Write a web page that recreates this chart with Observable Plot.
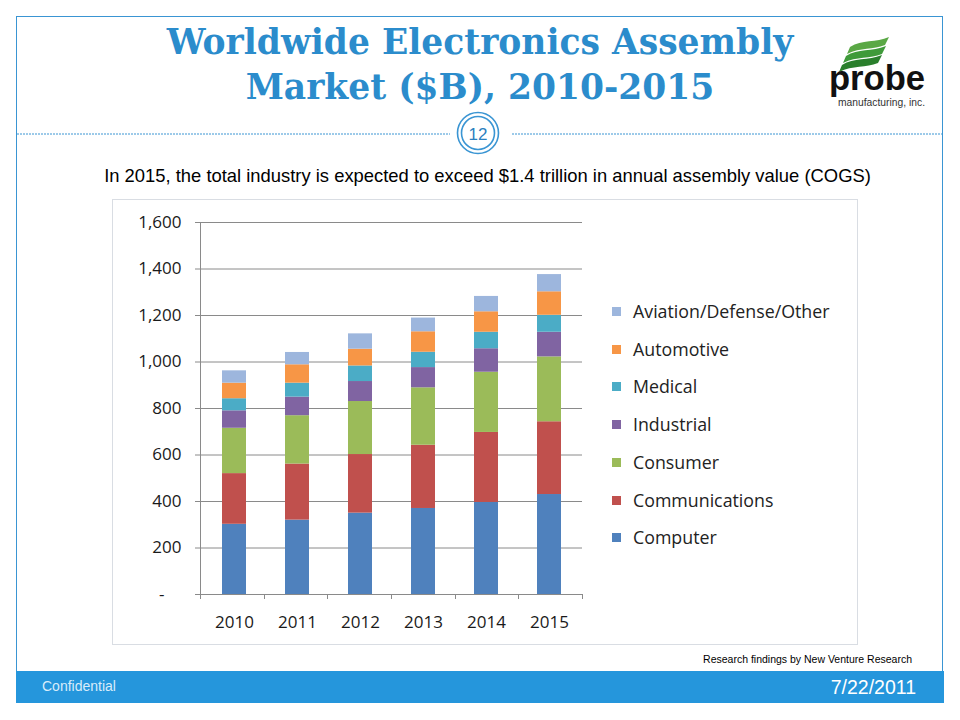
<!DOCTYPE html>
<html>
<head>
<meta charset="utf-8">
<script src="https://cdn.jsdelivr.net/npm/d3@7"></script>
<script src="https://cdn.jsdelivr.net/npm/@observablehq/plot@0.6"></script>
<style>
  html, body { margin: 0; padding: 0; background: #fff; }
  #slide { position: relative; width: 960px; height: 720px; overflow: hidden; background: #fff; }
  .abs { position: absolute; }
  #border { left: 16px; top: 16px; width: 927px; height: 686px; border: 1px solid #3a95d3; box-sizing: border-box; }
  .title { left: 0; width: 960px; text-align: center; font-family: "DejaVu Serif", serif; font-weight: bold; color: #2b8ccc; font-size: 34.5px; white-space: nowrap; }
  #subtitle { left: 0; width: 975px; text-align: center; top: 165px; font-family: "Liberation Sans", Arial, sans-serif; font-size: 18.4px; color: #000; white-space: nowrap; }
  #chartbox { left: 112px; top: 199px; width: 746px; height: 446px; border: 1px solid #d9dde3; box-sizing: border-box; }
  #plot { left: 112px; top: 199px; }
  #legend { left: 608px; top: 299px; font-family: "Open Sans", sans-serif; font-size: 17.8px; color: #222; }
  .lg { position: absolute; white-space: nowrap; height: 24px; line-height: 24px; }
  .sw { position: absolute; left: 4px; top: 8px; width: 9px; height: 9px; }
  .lt { position: absolute; left: 25px; top: 0; }
  #source { right: 48px; top: 653px; font-family: "Liberation Sans", Arial, sans-serif; font-size: 10.5px; color: #000; }
  #footer { left: 16px; top: 671px; width: 928px; height: 32px; background: #2596dc; }
  #conf { left: 42px; top: 678px; font-family: "Liberation Sans", Arial, sans-serif; font-size: 14px; color: #d8ecfa; }
  #date { right: 44px; top: 676px; font-family: "Liberation Sans", Arial, sans-serif; font-size: 19.5px; color: #fff; }
</style>
</head>
<body>
<div id="slide">
  <div id="border" class="abs"></div>
  <div class="abs title" style="top:22px;">Worldwide Electronics Assembly</div>
  <div class="abs title" style="top:67px;">Market ($B), 2010-2015</div>
  <svg class="abs" style="left:0;top:0" width="960" height="160">
    <line x1="17" y1="134" x2="450" y2="134" stroke="#3a95d3" stroke-width="1" stroke-dasharray="2,1"/>
    <line x1="512" y1="134" x2="943" y2="134" stroke="#3a95d3" stroke-width="1" stroke-dasharray="2,1"/>
    <circle cx="478" cy="133" r="20.5" fill="#fff" stroke="#3a95d3" stroke-width="1.6"/>
    <circle cx="478" cy="133" r="16.5" fill="#fff" stroke="#3a95d3" stroke-width="1.6"/>
    <text x="478" y="139.5" text-anchor="middle" font-family="Liberation Sans, Arial, sans-serif" font-size="17" fill="#2b7fc0">12</text>
    <!-- logo -->
    <g>
      <path d="M850,47 C862,39 876,43 889,37 L885,45 C873,50 861,47 847,54 Z" fill="#5aa845"/>
      <path d="M846,56 C858,48 872,52 886,46 L882,54 C870,59 857,56 843,63 Z" fill="#3f9a3a"/>
      <path d="M842,65 C854,57 868,61 882,55 L878,63 C866,68 853,65 839,72 Z" fill="#2a7f2c"/>
      <text x="829" y="90" font-family="Liberation Sans Narrow, Liberation Sans, sans-serif" font-weight="bold" font-size="35" fill="#111" textLength="96" lengthAdjust="spacingAndGlyphs">probe</text>
      <text x="838" y="106" font-family="Liberation Sans Narrow, Liberation Sans, sans-serif" font-size="10" fill="#333" textLength="87" lengthAdjust="spacingAndGlyphs">manufacturing, inc.</text>
    </g>
  </svg>
  <div id="subtitle" class="abs">In 2015, the total industry is expected to exceed $1.4 trillion in annual assembly value (COGS)</div>
  <div id="chartbox" class="abs"></div>
  <div id="plot" class="abs"></div>
  <div id="legend" class="abs"></div>
  <div id="source" class="abs">Research findings by New Venture Research</div>
  <div id="footer" class="abs"></div>
  <div id="conf" class="abs">Confidential</div>
  <div id="date" class="abs">7/22/2011</div>
</div>
<script>
// ---- data (values in $B) ----
const years = ["2010", "2011", "2012", "2013", "2014", "2015"];
const categories = ["Computer", "Communications", "Consumer", "Industrial", "Medical", "Automotive", "Aviation/Defense/Other"];
const computer       = [302, 320, 350, 370, 396, 430];
const communications = [218, 241, 252, 272, 301, 313];
const consumer       = [195, 208, 228, 247, 259, 279];
const industrial     = [ 75,  80,  86,  87, 101, 106];
const medical        = [ 52,  60,  67,  66,  71,  73];
const automotive     = [ 67,  79,  72,  88,  88, 101];
const aviation       = [ 53,  53,  66,  59,  66,  74];
const colors = ["#4f81bd", "#c0504d", "#9bbb59", "#8064a2", "#4bacc6", "#f79646", "#9db6dd"];
const yTicks = [0, 200, 400, 600, 800, 1000, 1200, 1400, 1600];

const series = [computer, communications, consumer, industrial, medical, automotive, aviation];
const data = categories.flatMap((c, i) => years.map((yr, j) => ({year: yr, category: c, value: series[i][j]})));

const W = 746, H = 446;
const fmt = d3.format(",");

const boundaryTicks = (index, scales, values, dim) => {
  const g = d3.create("svg:g").attr("stroke", "#8a8a8a").attr("stroke-width", 1);
  const x0 = dim.marginLeft, x1 = dim.width - dim.marginRight;
  const step = (x1 - x0) / years.length;
  const yb = scales.y(0);
  for (let k = 0; k <= years.length; k++) {
    const xx = Math.round(x0 + k * step) + 0.5;
    g.append("line").attr("x1", xx).attr("x2", xx).attr("y1", yb).attr("y2", yb + 5);
  }
  return g.node();
};

const chart = Plot.plot({
  width: W,
  height: H,
  marginLeft: 88,
  marginRight: 276,
  marginTop: 23,
  marginBottom: 51,
  style: {fontFamily: "Open Sans, sans-serif", fontSize: "17px", color: "#1a1a1a", background: "transparent"},
  x: {domain: years, paddingInner: 0.62, paddingOuter: 0.31, label: null},
  y: {domain: [0, 1600], label: null},
  color: {domain: categories, range: colors},
  marks: [
    Plot.gridY(yTicks, {stroke: "#8a8a8a", strokeOpacity: 1}),
    Plot.barY(data, {x: "year", y: "value", fill: "category", order: categories}),
    Plot.ruleY([0], {stroke: "#8a8a8a"}),
    Plot.frame({anchor: "left", stroke: "#8a8a8a"}),
    Plot.axisY({ticks: yTicks, tickSize: 5, tickPadding: 14, stroke: "#8a8a8a", label: null,
      tickFormat: d => d === 0 ? "-\u2003" : fmt(d)}),
    Plot.axisX({tickSize: 0, tickPadding: 21, label: null}),
    boundaryTicks
  ]
});
document.getElementById("plot").appendChild(chart);

// legend (top to bottom: reverse of stack order)
const legend = document.getElementById("legend");
categories.slice().reverse().forEach((c, i) => {
  const row = document.createElement("div");
  row.className = "lg";
  row.style.top = (i * 37.7) + "px";
  const sw = document.createElement("div");
  sw.className = "sw";
  sw.style.background = colors[categories.indexOf(c)];
  const t = document.createElement("div");
  t.className = "lt";
  t.textContent = c;
  row.appendChild(sw); row.appendChild(t);
  legend.appendChild(row);
});
</script>
</body>
</html>
